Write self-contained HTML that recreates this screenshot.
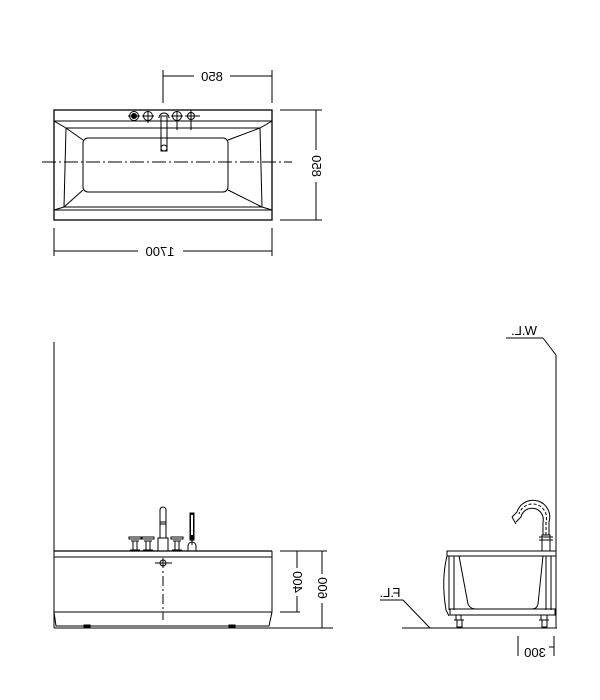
<!DOCTYPE html>
<html><head><meta charset="utf-8"><style>
html,body{margin:0;padding:0;background:#fff}
svg{display:block}
text{font-family:"Liberation Sans",sans-serif;font-size:13px;fill:#000}
</style></head><body>
<svg width="600" height="700" viewBox="0 0 600 700" xmlns="http://www.w3.org/2000/svg">
<g fill="none" stroke="#000" stroke-width="1">
<rect x="54" y="110" width="218" height="110" stroke-width="1.3"/>
<line x1="54" y1="121" x2="272" y2="121"/>
<line x1="54" y1="210" x2="272" y2="210"/>
<polygon points="66,128 260,128 262,207 64,207"/>
<line x1="54" y1="121" x2="66" y2="128"/><line x1="272" y1="121" x2="260" y2="128"/>
<line x1="54" y1="210" x2="64" y2="207"/><line x1="272" y1="210" x2="262" y2="207"/>
<rect x="83" y="138" width="145" height="54" rx="5"/>
<line x1="66" y1="128" x2="83" y2="140"/><line x1="260" y1="128" x2="228" y2="140"/>
<line x1="64" y1="207" x2="83" y2="190"/><line x1="262" y1="207" x2="228" y2="190"/>
<line x1="42" y1="162" x2="292" y2="162" stroke-dasharray="14,3,2,3"/>
<circle cx="134" cy="116" r="4.5"/><circle cx="134" cy="116" r="2.5" fill="#000"/><line x1="128" y1="116" x2="140" y2="116"/>
<circle cx="148" cy="116" r="4.5"/><line x1="148" y1="111" x2="148" y2="123"/><line x1="142" y1="116" x2="154" y2="116"/>
<path d="M159,118 A5,5 0 0 1 169,118"/>
<rect x="161" y="116" width="6" height="35"/>
<circle cx="164" cy="148" r="3"/>
<circle cx="177" cy="116" r="4.5"/><line x1="177" y1="111" x2="177" y2="130"/><line x1="171" y1="116" x2="183" y2="116"/>
<circle cx="191" cy="116" r="3.5"/><line x1="185" y1="116" x2="200" y2="116"/><line x1="191" y1="110" x2="191" y2="130"/>
<line x1="163" y1="76" x2="194" y2="76"/><line x1="230" y1="76" x2="272" y2="76"/>
<line x1="163" y1="70" x2="163" y2="103"/><line x1="272" y1="70" x2="272" y2="103"/>
<line x1="280" y1="110" x2="322" y2="110"/><line x1="280" y1="220" x2="322" y2="220"/>
<line x1="316" y1="110" x2="316" y2="150"/><line x1="316" y1="182" x2="316" y2="220"/>
<line x1="54" y1="228" x2="54" y2="256"/><line x1="272" y1="228" x2="272" y2="256"/>
<line x1="54" y1="251" x2="138" y2="251"/><line x1="183" y1="251" x2="272" y2="251"/>
<line x1="54" y1="342" x2="54" y2="628"/>
<line x1="54" y1="551" x2="272" y2="551" stroke-width="1.3"/>
<line x1="54" y1="557" x2="272" y2="557"/>
<line x1="272" y1="551" x2="272" y2="612"/>
<line x1="54" y1="612" x2="272" y2="612"/>
<path d="M54,612 L56,626 L269,626 L272,612"/>
<line x1="54" y1="628" x2="333" y2="628"/>
<rect x="84" y="625" width="6" height="2" fill="#000"/><rect x="229" y="625" width="6" height="2" fill="#000"/>
<line x1="163" y1="558" x2="163" y2="620" stroke-dasharray="10,3,2,3"/>
<circle cx="163" cy="563" r="3"/><line x1="155" y1="563" x2="172" y2="563"/>
<g>
<rect x="129" y="537" width="12" height="2"/><line x1="131" y1="541" x2="139" y2="541"/><rect x="133" y="541" width="4" height="10"/><line x1="130" y1="550" x2="140" y2="550"/>
<rect x="142" y="537" width="12" height="2"/><line x1="144" y1="541" x2="152" y2="541"/><rect x="146" y="541" width="4" height="10"/><line x1="143" y1="550" x2="153" y2="550"/>
<rect x="171" y="537" width="12" height="2"/><line x1="173" y1="541" x2="181" y2="541"/><rect x="175" y="541" width="4" height="10"/><line x1="172" y1="550" x2="182" y2="550"/>
<path d="M160,538 L160,510 A3,3 0 0 1 166,510 L166,538"/><line x1="160" y1="522" x2="166" y2="522"/><line x1="160" y1="524" x2="166" y2="524"/>
<rect x="158" y="538" width="10" height="13"/>
<rect x="190" y="513" width="4" height="27" fill="#000"/><rect x="191" y="515" width="2" height="20" fill="#fff" stroke="none"/>
<path d="M188,551 L188,546 A4,4 0 0 1 196,546 L196,551"/><line x1="192" y1="540" x2="192" y2="545"/>
</g>
<line x1="280" y1="551" x2="327" y2="551"/><line x1="280" y1="612" x2="300" y2="612"/><line x1="303" y1="628" x2="327" y2="628"/>
<line x1="297" y1="551" x2="297" y2="568"/><line x1="297" y1="596" x2="297" y2="612"/>
<line x1="322" y1="551" x2="322" y2="574"/><line x1="322" y1="603" x2="322" y2="628"/>
<line x1="380" y1="600" x2="403" y2="600"/><line x1="403" y1="600" x2="430" y2="628"/>
<line x1="402" y1="628" x2="557" y2="628"/>
<line x1="506" y1="338" x2="543" y2="338"/><line x1="543" y1="338" x2="556" y2="355"/>
<line x1="556" y1="355" x2="556" y2="628"/>
<rect x="447" y="551" width="109" height="5"/>
<path d="M447,556 Q441,580 446,610 L449,616"/>
<line x1="449" y1="556" x2="449" y2="610"/><line x1="454" y1="556" x2="454" y2="610"/>
<line x1="546" y1="556" x2="546" y2="610"/><line x1="551" y1="556" x2="551" y2="610"/>
<path d="M459,556 L468,604 Q470,609 476,609 L532,609 Q537,609 538,604 L543,556"/>
<rect x="450" y="609" width="105" height="6"/>
<path d="M456,615 L456,620 M461,615 L461,620 M454,620 L464,620 M457,620 L457,627 L462,627 L462,620"/>
<path d="M541,615 L541,620 M547,615 L547,620 M539,620 L549,620 M542,620 L542,627 L547,627 L547,620"/>
<rect x="542" y="535" width="8" height="16"/><line x1="539" y1="537" x2="553" y2="537"/><line x1="539" y1="540" x2="553" y2="540"/>
<path d="M543,535 L543,522 A11,11 0 0 0 521,517 L516,522"/>
<path d="M549,535 L549,522 A16,16 0 0 0 517,512 L512,517"/>
<path d="M546,535 L546,522 A13,13 0 0 0 519,514" stroke-dasharray="3,2"/>
<line x1="512" y1="517" x2="516" y2="524"/>
<line x1="518" y1="636" x2="518" y2="656"/><line x1="554" y1="636" x2="554" y2="656"/>
<line x1="549" y1="647" x2="554" y2="647"/>
</g>
<g>
<text transform="translate(212,81) scale(-1,1)" text-anchor="middle">850</text>
<text transform="translate(160,256) scale(-1,1)" text-anchor="middle">1700</text>
<text transform="translate(312,166) rotate(90) scale(-1,1)" text-anchor="middle">850</text>
<text transform="translate(293,582) rotate(90) scale(-1,1)" text-anchor="middle">400</text>
<text transform="translate(318,588) rotate(90) scale(-1,1)" text-anchor="middle">600</text>
<text transform="translate(390,597) scale(-1,1)" text-anchor="middle" font-size="12">F.L.</text>
<text transform="translate(524,335) scale(-1,1)" text-anchor="middle" font-size="12">W.L.</text>
<text transform="translate(535,657) scale(-1,1)" text-anchor="middle">300</text>
</g>
</svg>
</body></html>
